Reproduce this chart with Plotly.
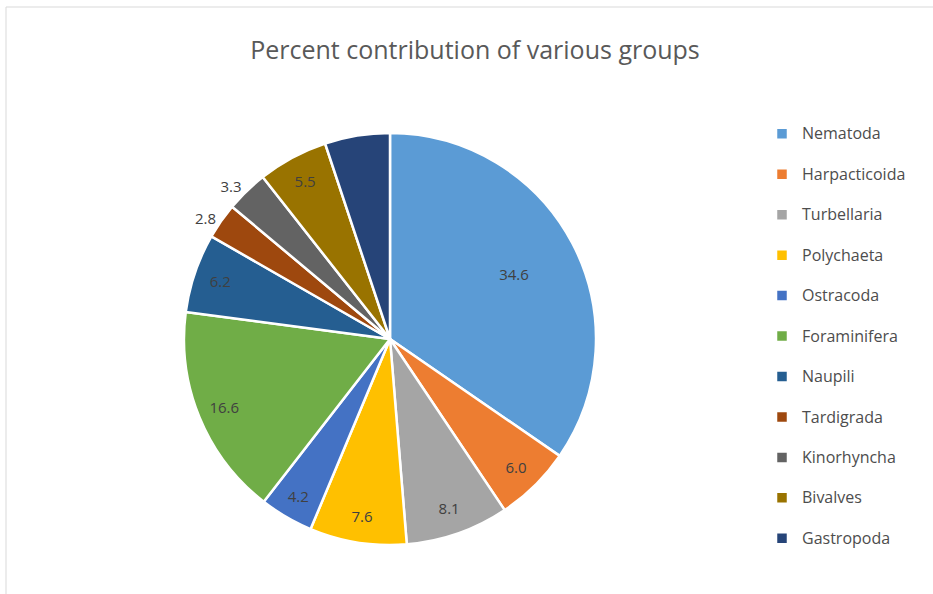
import plotly.graph_objects as go

# Percent contribution of meiofaunal groups
groups = ["Nematoda", "Harpacticoida", "Turbellaria", "Polychaeta", "Ostracoda",
          "Foraminifera", "Naupili", "Tardigrada", "Kinorhyncha", "Bivalves", "Gastropoda"]
percent = [34.6, 6.0, 8.1, 7.6, 4.2, 16.6, 6.2, 2.8, 3.3, 5.5, 5.1]

# which slices carry a value label, and where it sits
label_place = ["core", "ring", "ring", "ring", "ring",
               "ring", "ring", "outside", "outside", "ring", "none"]

colors = ["#5B9BD5", "#ED7D31", "#A5A5A5", "#FFC000", "#4472C4", "#70AD47",
          "#255E91", "#9E480E", "#636363", "#997300", "#264478"]


def labels_for(place):
    return [f"{v:.1f}" if p == place else "" for v, p in zip(percent, label_place)]


# two-line legend entries give the roomy spacing between items
legend_names = [f'<span style="font-size:16px">{g}</span><br> ' for g in groups]

W, H = 933, 594
cx, cy, r = 390, 339, 206
domain = dict(x=[(cx - r) / W, (cx + r) / W], y=[1 - (cy + r) / H, 1 - (cy - r) / H])
label_font = dict(family="Open Sans", size=15, color="#404040")
clear = ["rgba(0,0,0,0)"] * len(groups)

common = dict(values=percent, sort=False, direction="clockwise", rotation=0,
              domain=domain, hoverinfo="skip", textinfo="text",
              insidetextorientation="horizontal")

fig = go.Figure()
# coloured slices, plus the two small values set outside the pie
fig.add_trace(go.Pie(
    labels=legend_names, text=labels_for("outside"),
    textposition=["outside" if p == "outside" else "none" for p in label_place],
    marker=dict(colors=colors, line=dict(color="white", width=2.5)),
    outsidetextfont=label_font, **common))
# value labels placed out near the rim
fig.add_trace(go.Pie(
    labels=groups, text=labels_for("ring"), textposition="inside", hole=0.74,
    marker=dict(colors=clear, line=dict(width=0)), insidetextfont=label_font,
    showlegend=False, **common))
# value label of the largest slice, set further in
fig.add_trace(go.Pie(
    labels=groups, text=labels_for("core"), textposition="inside", hole=0.36,
    marker=dict(colors=clear, line=dict(width=0)), insidetextfont=label_font,
    showlegend=False, **common))

fig.update_layout(
    width=W, height=H,
    margin=dict(l=0, r=0, t=0, b=0),
    paper_bgcolor="white",
    plot_bgcolor="white",
    title=dict(text="Percent contribution of various groups",
               x=475 / W, xanchor="center", xref="paper", y=1 - 50 / H, yanchor="middle",
               font=dict(family="Open Sans", size=25, color="#595959")),
    legend=dict(x=762 / W, xanchor="left", y=1 - 118 / H, yanchor="top",
                font=dict(family="Open Sans", size=14.4, color="#4d4d4d"),
                valign="top", itemwidth=30, bgcolor="rgba(0,0,0,0)"),
    shapes=[
        dict(type="line", xref="paper", yref="paper", x0=6 / W, x1=6 / W, y0=0, y1=1 - 7 / H,
             line=dict(color="#D9D9D9", width=1)),
        dict(type="line", xref="paper", yref="paper", x0=6 / W, x1=1, y0=1 - 7 / H, y1=1 - 7 / H,
             line=dict(color="#D9D9D9", width=1)),
    ],
)

fig.write_html("out.html")
